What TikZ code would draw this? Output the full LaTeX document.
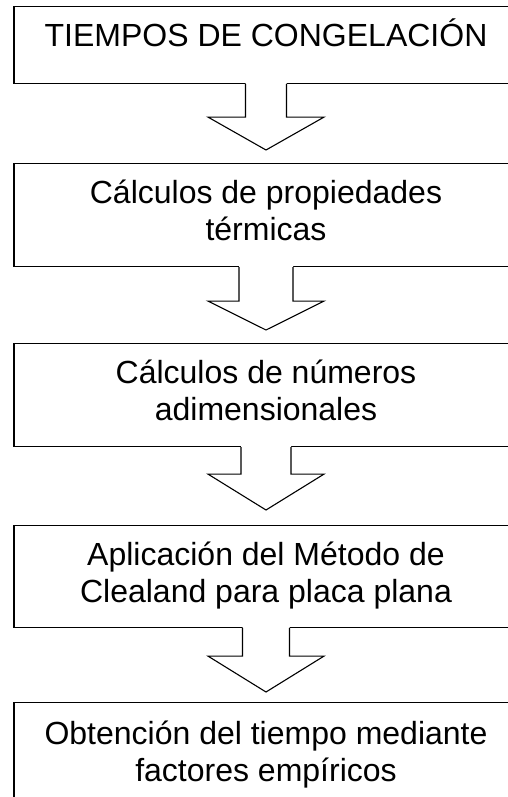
\documentclass[tikz,border=0pt]{standalone}
\usepackage{fontspec}
\setmainfont{Liberation Sans}
\usetikzlibrary{calc}
% #1 from node, #2 to node, #3 half shaft width, #4 shaft length, #5 half head width, #6 gap above target
\newcommand{\blockarrow}[6]{%
  \fill[white] ($(#1.south)+(-#3,-1.2)$) -- ($(#1.south)+(-#3,#4)$) -- ($(#1.south)+(-#5,#4)$) -- ($(#2.north)+(0,-#6)$) -- ($(#1.south)+(#5,#4)$) -- ($(#1.south)+(#3,#4)$) -- ($(#1.south)+(#3,-1.2)$) -- cycle;
  \draw[blk] ($(#1.south)+(-#3,0)$) -- ($(#1.south)+(-#3,#4)$) -- ($(#1.south)+(-#5,#4)$) -- ($(#2.north)+(0,-#6)$) -- ($(#1.south)+(#5,#4)$) -- ($(#1.south)+(#3,#4)$) -- ($(#1.south)+(#3,0)$);}
\begin{document}
\begin{tikzpicture}[x=1pt,y=-1pt,
  box/.style={draw, line width=1.1pt, minimum width=504pt, inner sep=0pt, anchor=north},
  lbl/.style={font=\fontsize{32}{36.8}\selectfont, align=center, anchor=base, inner sep=0pt},
  blk/.style={draw, line width=1.1pt, line join=miter}]
\useasboundingbox (0,0) rectangle (508,797);
\clip (0,0) rectangle (508,797);
\node[box, minimum height=77pt]  (b1) at (266,6)   {};
\node[box, minimum height=103pt] (b2) at (266,163) {};
\node[box, minimum height=103pt] (b3) at (266,343) {};
\node[box, minimum height=102pt] (b4) at (266,525) {};
\node[box, minimum height=120pt] (b5) at (266,702) {};
\node[lbl] (t1) at ($(b1.north)+(0,41)$) {TIEMPOS DE CONGELACIÓN};
\node[lbl] (t2) at ($(b2.north)+(0,77)$) {Cálculos de propiedades\\térmicas};
\node[lbl] (t3) at ($(b3.north)+(0,77)$) {Cálculos de números\\adimensionales};
\node[lbl] (t4) at ($(b4.north)+(0,77)$) {Aplicación del Método de\\Clealand para placa plana};
\node[lbl] (t5) at ($(b5.north)+(0,79)$) {Obtención del tiempo mediante\\factores empíricos};
\blockarrow{b1}{b2}{20.5}{33}{58}{13}
\blockarrow{b2}{b3}{27}{34}{58}{13}
\blockarrow{b3}{b4}{25}{27}{58}{15}
\blockarrow{b4}{b5}{23.5}{28}{58}{10}
\end{tikzpicture}
\end{document}
